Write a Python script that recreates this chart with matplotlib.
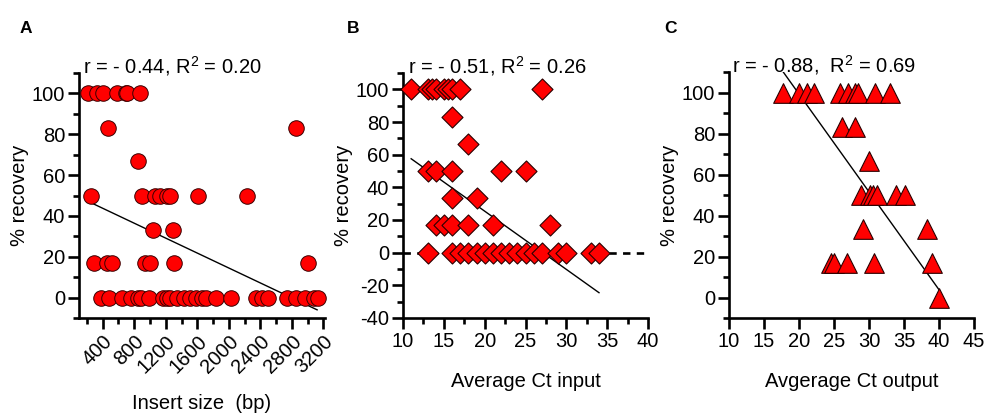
import numpy as np
import matplotlib
matplotlib.use("Agg")
from matplotlib import pyplot as plt
from matplotlib.ticker import MultipleLocator

plt.rcParams['font.family'] = ['Liberation Sans', 'DejaVu Sans']
plt.rcParams['axes.unicode_minus'] = False
plt.rcParams['mathtext.fontset'] = 'custom'
plt.rcParams['mathtext.rm'] = 'Liberation Sans'
plt.rcParams['mathtext.it'] = 'Liberation Sans'
plt.rcParams['mathtext.default'] = 'regular'

# panel A: insert size vs recovery
a_x = [210, 330, 400, 580, 690, 710, 870,
       470, 2850,
       850,
       253, 900, 1070, 1130, 1210, 1250, 1610, 2235,
       1035, 1290,
       286, 456, 519, 943, 997, 1302, 3000,
       380, 476, 650, 760, 845, 880, 985, 1170, 1210, 1260, 1345, 1430, 1514,
       1578, 1663, 1705, 1832, 2023, 2350, 2425, 2500, 2743, 2855, 2960, 3081, 3130]
a_y = [100] * 7 + [83.3] * 2 + [66.7] + [50] * 8 + [33.3] * 2 + [16.7] * 7 + [0] * 26
a_fit_x = [250, 3120]
a_fit_y = [46.5, -6]

# panel B: average Ct input vs recovery
b_x = [11, 13, 13.5, 14, 15, 15.5, 16, 17, 27,
       16,
       18,
       13, 14, 16, 22, 25,
       16, 19,
       14, 15, 16, 18, 21, 28,
       13, 16, 17, 18, 19, 20, 21, 22, 23, 24, 25, 26, 27, 29, 30, 33, 34]
b_y = [100] * 9 + [83.3] + [66.7] + [50] * 5 + [33.3] * 2 + [16.7] * 6 + [0] * 17
b_fit_x = [11, 34]
b_fit_y = [57.5, -24.5]

# panel C: average Ct output vs recovery
c_x = [17.75, 20.0, 21.1, 22.1, 25.9, 27.0, 28.0, 28.4, 30.8, 33.0,
       26.1, 28.0,
       30.0,
       28.8, 30.1, 30.5, 31.1, 33.9, 35.1,
       29.1, 38.3,
       24.6, 25.0, 26.8, 30.7, 39.0,
       40.0]
c_y = [100] * 10 + [83.3] * 2 + [66.7] + [50] * 6 + [33.3] * 2 + [16.7] * 5 + [0]
c_fit_x = [17.75, 40]
c_fit_y = [110, 3.8]

fs = 14.5
red = '#ff0000'

fig = plt.figure(figsize=(9.85, 4.16), dpi=100)
axA = fig.add_axes([79/985, 1-318/416, 246/985, 245/416])
axB = fig.add_axes([403/985, 1-318/416, 245/985, 245/416])
axC = fig.add_axes([729/985, 1-318/416, 245/985, 246/416])

for ax in [axA, axB, axC]:
    for s in ['top', 'right']:
        ax.spines[s].set_visible(False)
    for s in ['left', 'bottom']:
        ax.spines[s].set_linewidth(1.9)
    ax.tick_params(which='major', length=8, width=1.9, labelsize=fs, pad=2)
    ax.tick_params(which='minor', length=4.5, width=1.9)
    ax.set_ylabel('% recovery', fontsize=fs, labelpad=2)

# A
axA.plot(a_fit_x, a_fit_y, color='black', lw=1.0, zorder=2)
axA.scatter(a_x, a_y, s=125, marker='o', facecolor=red, edgecolor='#3a0000',
            linewidth=0.7, zorder=3, clip_on=False)
axA.set_xlim(100, 3220)
axA.set_ylim(-10, 110)
axA.xaxis.set_major_locator(MultipleLocator(400))
axA.xaxis.set_minor_locator(MultipleLocator(200))
axA.yaxis.set_major_locator(MultipleLocator(20))
axA.yaxis.set_minor_locator(MultipleLocator(10))
for lab in axA.get_xticklabels():
    lab.set_rotation(45)
    lab.set_ha('right')
    lab.set_va('top')
    lab.set_rotation_mode('anchor')
axA.set_xlabel('Insert size  (bp)', fontsize=fs, labelpad=12)
axA.text(0.016, 1.0, r'r = - 0.44, R$^{2}$ = 0.20', transform=axA.transAxes,
         fontsize=fs, ha='left', va='baseline')

# B
axB.plot([10, 40], [0, 0], color='black', lw=1.9, dashes=[2.8, 2.4], zorder=1)
axB.plot(b_fit_x, b_fit_y, color='black', lw=1.0, zorder=2)
axB.scatter(b_x, b_y, s=115, marker='D', facecolor=red, edgecolor='#2a0000',
            linewidth=0.8, zorder=3, clip_on=False)
axB.set_xlim(10, 40)
axB.set_ylim(-40, 110)
axB.xaxis.set_major_locator(MultipleLocator(5))
axB.xaxis.set_minor_locator(MultipleLocator(2.5))
axB.yaxis.set_major_locator(MultipleLocator(20))
axB.yaxis.set_minor_locator(MultipleLocator(10))
axB.set_xlabel('Average Ct input', fontsize=fs, labelpad=15)
axB.text(0.02, 1.0, r'r = - 0.51, R$^{2}$ = 0.26', transform=axB.transAxes,
         fontsize=fs, ha='left', va='baseline')

# C
axC.plot(c_fit_x, c_fit_y, color='black', lw=1.0, zorder=2)
axC.scatter(c_x, c_y, s=200, marker='^', facecolor=red, edgecolor='#2a0000',
            linewidth=0.8, zorder=3, clip_on=False)
axC.set_xlim(10, 45)
axC.set_ylim(-10, 110)
axC.xaxis.set_major_locator(MultipleLocator(5))
axC.yaxis.set_major_locator(MultipleLocator(20))
axC.yaxis.set_minor_locator(MultipleLocator(10))
axC.set_xlabel('Avgerage Ct output', fontsize=fs, labelpad=15)
axC.text(0.012, 1.0, r'r = - 0.88,  R$^{2}$ = 0.69', transform=axC.transAxes,
         fontsize=fs, ha='left', va='baseline')

fig.text(20/985, 1-33/416, 'A', fontsize=12.5, fontweight='bold')
fig.text(347/985, 1-33/416, 'B', fontsize=12.5, fontweight='bold')
fig.text(664/985, 1-33/416, 'C', fontsize=12.5, fontweight='bold')

fig.savefig('out.png', dpi=100)
